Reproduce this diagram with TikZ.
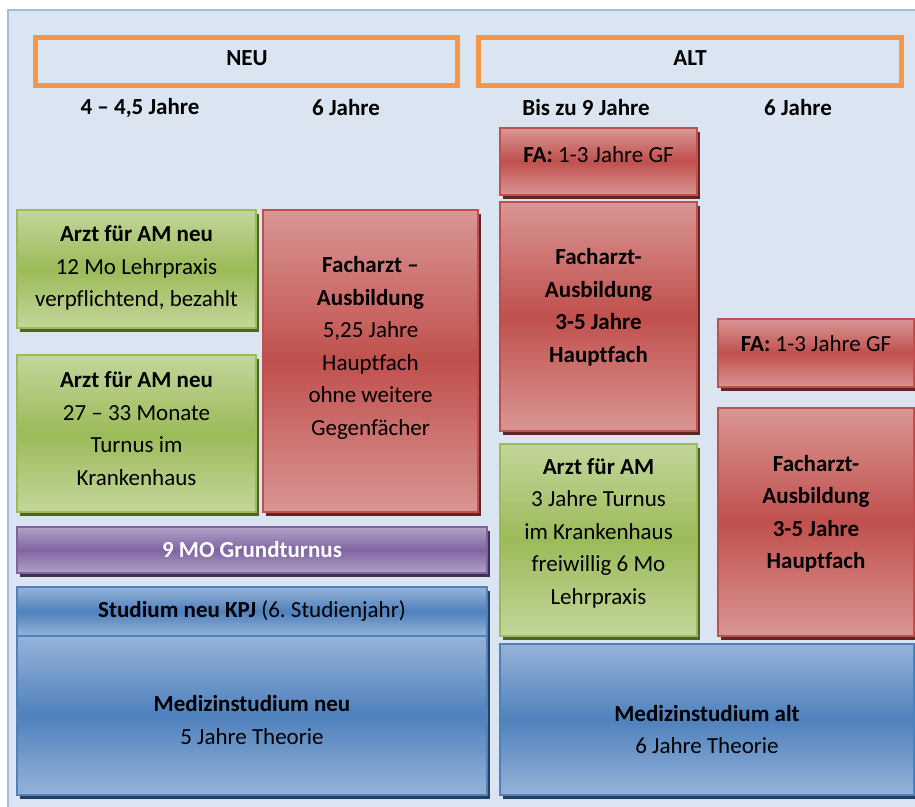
\documentclass[tikz,border=0pt]{standalone}
\usepackage{fontspec}
\setmainfont{Carlito}[Ligatures=CommonOff]
\frenchspacing
\usetikzlibrary{shadows}
\definecolor{bgfill}{HTML}{DBE5F1}
\definecolor{bgline}{HTML}{A3BCDC}
\definecolor{orng}{HTML}{F79646}
\definecolor{gLight}{HTML}{C3D69B}
\definecolor{gDark}{HTML}{9BBB59}
\definecolor{gLine}{HTML}{9BBB59}
\definecolor{gShad}{HTML}{4F6228}
\definecolor{rLight}{HTML}{D99694}
\definecolor{rDark}{HTML}{C0504D}
\definecolor{rLine}{HTML}{C0504D}
\definecolor{rShad}{HTML}{632523}
\definecolor{pLight}{HTML}{B3A2C7}
\definecolor{pDark}{HTML}{8064A2}
\definecolor{pLine}{HTML}{8064A2}
\definecolor{pShad}{HTML}{3F3151}
\definecolor{bLight}{HTML}{95B3D7}
\definecolor{bDark}{HTML}{4F81BD}
\definecolor{bLine}{HTML}{4F81BD}
\definecolor{bShad}{HTML}{243F60}
\begin{document}
\begin{tikzpicture}[x=1pt,y=-1pt,
  bx/.style={draw, line width=2pt, inner sep=0pt, outer sep=0pt, anchor=north west},
  greenbox/.style={bx, draw=gLine, top color=gLight, bottom color=gLight, middle color=gDark,
     drop shadow={shadow xshift=3pt, shadow yshift=-4pt, fill=gShad, opacity=1}},
  redbox/.style={bx, draw=rLine, top color=rLight, bottom color=rLight, middle color=rDark,
     drop shadow={shadow xshift=3pt, shadow yshift=-4pt, fill=rShad, opacity=1}},
  purplebox/.style={bx, draw=pLine, top color=pLight, bottom color=pLight, middle color=pDark,
     drop shadow={shadow xshift=3pt, shadow yshift=-4pt, fill=pShad, opacity=1}},
  bluebox/.style={bx, draw=bLine, top color=bLight, bottom color=bLight, middle color=bDark,
     drop shadow={shadow xshift=3pt, shadow yshift=-4pt, fill=bShad, opacity=1}},
  headbox/.style={draw=orng, line width=5pt, inner sep=0pt, outer sep=0pt, anchor=north west},
  txt/.style={align=center, inner sep=0pt, font=\fontsize{23}{32.5}\selectfont},
  hdr/.style={inner sep=0pt, font=\fontsize{23}{26}\selectfont\bfseries}
]
\useasboundingbox (0,0) rectangle (915,806);
% background
\fill[bgfill] (8,10) rectangle (925,816);
\draw[bgline, line width=2pt] (8,816) -- (8,10) -- (925,10);

% header boxes
\node[headbox, minimum width=422pt, minimum height=48pt] (neu) at (35.5,37.5) {};
\node[headbox, minimum width=423pt, minimum height=48pt] (alt) at (478.5,37.5) {};
\node[hdr] (neut) at (247,58) {NEU};
\node[hdr] (altt) at (690,58) {ALT};
\node[hdr] (l1) at (140,108) {4 – 4,5 Jahre};
\node[hdr] (l2) at (346,108) {6 Jahre};
\node[hdr] (l3) at (586,108) {Bis zu 9 Jahre};
\node[hdr] (l4) at (798,108) {6 Jahre};

% NEU column
\node[greenbox, minimum width=239pt, minimum height=118pt] (am1) at (17,210) {};
\node[txt] (am1t) at (136.5,268) {\textbf{Arzt für AM neu}\\12 Mo Lehrpraxis\\verpflichtend, bezahlt};

\node[greenbox, minimum width=239pt, minimum height=157pt] (am2) at (17,355) {};
\node[txt] (am2t) at (136.5,428.5) {\textbf{Arzt für AM neu}\\27 – 33 Monate\\Turnus im\\Krankenhaus};

\node[redbox, minimum width=215pt, minimum height=302pt] (faneu) at (263,210) {};
\node[txt] (faneut) at (370.5,348) {\textbf{Facharzt –}\\\textbf{Ausbildung}\\5,25 Jahre\\Hauptfach\\ohne weitere\\Gegenfächer};

\node[purplebox, minimum width=470pt, minimum height=46pt] (gt) at (17,527) {};
\node[txt, text=white, font=\fontsize{23}{32.5}\selectfont\bfseries] (gtt) at (252,550) {9 MO Grundturnus};

\node[bluebox, minimum width=470pt, minimum height=49pt] (kpj) at (17,587) {};
\node[bluebox, minimum width=470pt, minimum height=159pt] (medneu) at (17,636) {};
\node[txt] (kpjt) at (252,611) {\textbf{Studium neu KPJ} (6. Studienjahr)};
\node[txt] (medneut) at (252,720) {\textbf{Medizinstudium neu}\\5 Jahre Theorie};

% ALT column 1
\node[redbox, minimum width=197pt, minimum height=67pt] (fa1) at (500,128) {};
\node[txt] (fa1t) at (598.5,155) {\textbf{FA:} 1-3 Jahre GF};

\node[redbox, minimum width=197pt, minimum height=229pt] (fab1) at (500,202) {};
\node[txt, font=\fontsize{23}{32.5}\selectfont\bfseries] (fab1t) at (598.5,307) {Facharzt-\\Ausbildung\\3-5 Jahre\\Hauptfach};

\node[greenbox, minimum width=197pt, minimum height=192pt] (amalt) at (500,444) {};
\node[txt] (amaltt) at (598.5,533) {\textbf{Arzt für AM}\\3 Jahre Turnus\\im Krankenhaus\\freiwillig 6 Mo\\Lehrpraxis};

% ALT column 2
\node[redbox, minimum width=196pt, minimum height=68pt] (fa2) at (718,319) {};
\node[txt] (fa2t) at (816,344) {\textbf{FA:} 1-3 Jahre GF};

\node[redbox, minimum width=196pt, minimum height=228pt] (fab2) at (718,408) {};
\node[txt, font=\fontsize{23}{32.5}\selectfont\bfseries] (fab2t) at (816,513.5) {Facharzt-\\Ausbildung\\3-5 Jahre\\Hauptfach};

\node[bluebox, minimum width=414pt, minimum height=151pt] (medalt) at (500,644) {};
\node[txt] (medaltt) at (707,729.5) {\textbf{Medizinstudium alt}\\6 Jahre Theorie};
\end{tikzpicture}
\end{document}
